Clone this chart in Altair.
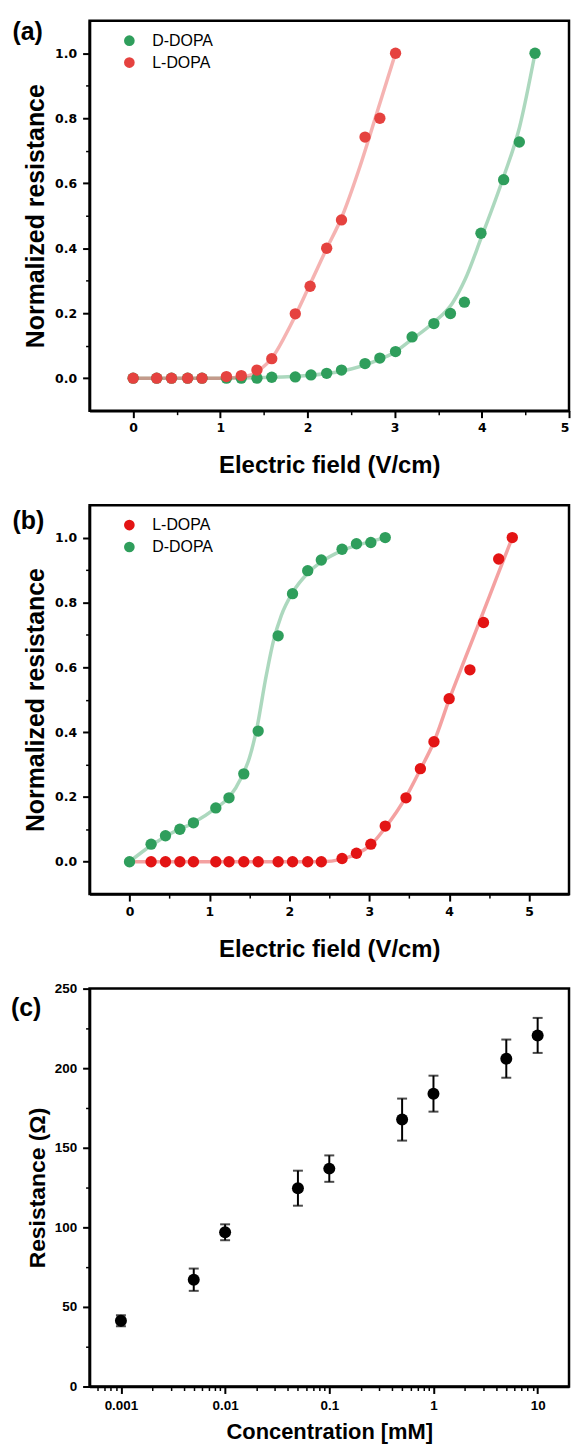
import altair as alt
import pandas as pd

# ---------------- data ----------------
# Panel (a)
a_d_x = [0, 0.27, 0.44, 0.625, 0.79, 1.07, 1.24, 1.42, 1.59, 1.86, 2.04, 2.22, 2.39, 2.66,
         2.83, 3.01, 3.20, 3.45, 3.64, 3.80, 3.99, 4.25, 4.43, 4.61]
a_d_y = [0, 0, 0, 0, 0, 0, 0, 0, 0.003, 0.004, 0.010, 0.015, 0.025, 0.045,
         0.062, 0.082, 0.127, 0.168, 0.199, 0.234, 0.446, 0.611, 0.727, 1.0]
a_l_x = [0, 0.27, 0.44, 0.625, 0.79, 1.07, 1.24, 1.42, 1.59, 1.86, 2.03, 2.22, 2.39, 2.66, 2.83, 3.01]
a_l_y = [0, 0, 0, 0, 0, 0.005, 0.008, 0.025, 0.060, 0.198, 0.283, 0.400, 0.487, 0.742, 0.800, 1.0]
# fitted curves
a_d_fit_x = [0, 1.0, 1.5, 2.0, 2.4, 2.8, 3.0, 3.2, 3.44, 3.66, 3.81, 3.99, 4.25, 4.43, 4.61]
a_d_fit_y = [0, 0, 0.002, 0.008, 0.022, 0.055, 0.080, 0.120, 0.170, 0.230, 0.305, 0.430, 0.620, 0.770, 1.0]
a_l_fit_x = [0, 1.0, 1.3, 1.45, 1.6, 1.8, 2.0, 2.2, 2.4, 2.6, 2.8, 3.01]
a_l_fit_y = [0, 0, 0.006, 0.025, 0.065, 0.160, 0.272, 0.388, 0.500, 0.650, 0.820, 1.0]

# Panel (b)
b_d_x = [0, 0.27, 0.45, 0.63, 0.80, 1.08, 1.245, 1.43, 1.61, 1.86, 2.04, 2.23, 2.40, 2.66, 2.84, 3.02, 3.20]
b_d_y = [0, 0.054, 0.080, 0.100, 0.120, 0.166, 0.197, 0.271, 0.403, 0.697, 0.827, 0.898, 0.931,
         0.964, 0.981, 0.985, 1.0]
b_l_x = [0.27, 0.45, 0.63, 0.80, 1.08, 1.245, 1.43, 1.61, 1.86, 2.04, 2.23, 2.40, 2.66, 2.84,
         3.02, 3.20, 3.46, 3.64, 3.81, 4.00, 4.26, 4.43, 4.62, 4.79]
b_l_y = [0, 0, 0, 0, 0, 0, 0, 0, 0, 0, 0, 0, 0.010, 0.026, 0.054, 0.110, 0.197, 0.287, 0.370,
         0.503, 0.592, 0.738, 0.934, 1.0]
b_d_fit_x = [0, 0.27, 0.5, 0.8, 1.08, 1.25, 1.4, 1.5, 1.6, 1.7, 1.8, 1.9, 2.04, 2.23, 2.4, 2.66, 2.9, 3.2]
b_d_fit_y = [0, 0.050, 0.085, 0.120, 0.165, 0.200, 0.260, 0.320, 0.420, 0.560, 0.680, 0.760, 0.830,
             0.890, 0.925, 0.960, 0.980, 1.0]
b_l_fit_x = [0, 2.4, 2.66, 2.84, 3.02, 3.2, 3.46, 3.64, 3.81, 4.0, 4.2, 4.4, 4.6, 4.79]
b_l_fit_y = [0, 0, 0.008, 0.024, 0.052, 0.105, 0.200, 0.285, 0.370, 0.500, 0.627, 0.753, 0.880, 1.0]

# Panel (c)
conc = [0.001, 0.005, 0.01, 0.05, 0.1, 0.5, 1, 5, 10]
resistance = [41.3, 67.1, 96.9, 124.6, 136.9, 167.7, 184.0, 206.0, 220.6]
res_err = [3.5, 7.0, 5.0, 11.0, 8.3, 13.2, 11.3, 12.0, 11.0]

# axis tick values / labels
ab_y_major = [0.0, 0.2, 0.4, 0.6, 0.8, 1.0]
ab_y_minor = [0.1, 0.3, 0.5, 0.7, 0.9]
a_x_major = [0, 1, 2, 3, 4, 5]
a_x_minor = [0.5, 1.5, 2.5, 3.5, 4.5]
b_x_major = [0, 1, 2, 3, 4, 5]
b_x_minor = [0.5, 1.5, 2.5, 3.5, 4.5]
c_y_major = [0, 50, 100, 150, 200, 250]
c_y_minor = [25, 75, 125, 175, 225]
c_x_major = [0.001, 0.01, 0.1, 1, 10]
c_x_minor = [k * 10.0 ** e for e in range(-4, 2) for k in range(2, 10)
             if 0.0005 < k * 10.0 ** e < 20]
panel_tags = ["(a)", "(b)", "(c)"]

# ---------------- styling ----------------
TFONT = "Liberation Sans"
NFONT_AB = "DejaVu Sans"
GREEN = "#2f9e5c"
RED_A = "#e5423f"
RED_B = "#e31414"
W = 482


def major_axis(values, fmt, title, title_size, label_font, label_size, orient, pad, tpad,
               flush=False):
    return alt.Axis(orient=orient, values=values, format=fmt, title=title, grid=False,
                    domainColor="black", domainWidth=2.5, tickColor="black", tickWidth=2,
                    tickSize=7, labelFont=label_font, labelFontSize=label_size,
                    labelFontWeight="bold", labelColor="black", labelPadding=pad,
                    titleFont=TFONT, titleFontSize=title_size, titleFontWeight="bold",
                    titleColor="black", titlePadding=tpad, labelOverlap=False,
                    labelFlush=flush)


def minor_axis(values, orient):
    return alt.Axis(orient=orient, values=values, labels=False, domain=False, grid=False,
                    title=None, tickColor="black", tickWidth=1.5, tickSize=4)


def tag_layer(text, dx, dy):
    return alt.Chart(pd.DataFrame({"tag": [text]})).mark_text(
        align="left", baseline="alphabetic", font=TFONT, fontSize=25, fontWeight="bold",
        color="black").encode(text="tag:N", x=alt.value(dx), y=alt.value(dy))


def make_ab(tag, tag_y, pts, fits, order, colors, xdomain, xmajor, xminor, height, flush):
    pts_df = pd.DataFrame(
        [{"x": x, "y": y, "series": s} for s, xs, ys in pts for x, y in zip(xs, ys)])
    fit_df = pd.DataFrame(
        [{"x": x, "y": y, "series": s} for s, xs, ys in fits for x, y in zip(xs, ys)])
    xs = alt.Scale(domain=xdomain, nice=False, zero=False)
    ys = alt.Scale(domain=[-0.1, 1.1], nice=False, zero=False)
    lines = alt.Chart(fit_df).mark_line(interpolate="monotone", strokeWidth=3.5,
                                        opacity=0.4).encode(
        x=alt.X("x:Q", scale=xs,
                axis=major_axis(xmajor, "d", "Electric field (V/cm)", 24, NFONT_AB, 12.5,
                                "bottom", 4, 20, flush)),
        y=alt.Y("y:Q", scale=ys,
                axis=major_axis(ab_y_major, ".1f", "Normalized resistance", 25, NFONT_AB,
                                12.5, "left", 6, 6)),
        color=alt.Color("series:N", scale=alt.Scale(domain=order, range=colors), legend=None),
        detail="series:N",
    )
    points = alt.Chart(pts_df).mark_circle(size=130, opacity=1).encode(
        x=alt.X("x:Q", scale=xs, axis=minor_axis(xminor, "bottom")),
        y=alt.Y("y:Q", scale=ys, axis=minor_axis(ab_y_minor, "left")),
        color=alt.Color("series:N", scale=alt.Scale(domain=order, range=colors),
                        legend=alt.Legend(orient="none", legendX=32, legendY=12, title=None,
                                          symbolType="circle", symbolSize=115,
                                          symbolStrokeWidth=0, symbolOpacity=1,
                                          labelFont=TFONT, labelFontSize=16,
                                          labelColor="black", labelOffset=15,
                                          rowPadding=6, padding=0)),
    )
    return alt.layer(lines, points, tag_layer(tag, -77.5, tag_y)).resolve_axis(
        x="independent", y="independent").resolve_scale(
        color="independent").properties(width=W, height=height)


panel_a = make_ab(panel_tags[0], 19,
                  [("D-DOPA", a_d_x, a_d_y), ("L-DOPA", a_l_x, a_l_y)],
                  [("D-DOPA", a_d_fit_x, a_d_fit_y), ("L-DOPA", a_l_fit_x, a_l_fit_y)],
                  ["D-DOPA", "L-DOPA"], [GREEN, RED_A], [-0.5, 5], a_x_major, a_x_minor,
                  392, True)

panel_b = make_ab(panel_tags[1], 24,
                  [("L-DOPA", b_l_x, b_l_y), ("D-DOPA", b_d_x, b_d_y)],
                  [("L-DOPA", b_l_fit_x, b_l_fit_y), ("D-DOPA", b_d_fit_x, b_d_fit_y)],
                  ["L-DOPA", "D-DOPA"], [RED_B, GREEN], [-0.5, 5.5], b_x_major, b_x_minor,
                  391, False)

# panel c
c_df = pd.DataFrame({"conc": conc, "res": resistance, "err": res_err})
c_df["lo"] = c_df["res"] - c_df["err"]
c_df["hi"] = c_df["res"] + c_df["err"]
cap_df = pd.DataFrame({"conc": conc + conc,
                       "v": list(c_df["lo"]) + list(c_df["hi"])})

cx = alt.Scale(type="log", domain=[0.0005, 20], nice=False)
cy = alt.Scale(domain=[0, 250], nice=False, zero=False)

c_rules = alt.Chart(c_df).mark_rule(color="black", strokeWidth=2).encode(
    x=alt.X("conc:Q", scale=cx,
            axis=major_axis(c_x_major, "~g", "Concentration [mM]", 22, TFONT, 13.5,
                            "bottom", 5, 10)),
    y=alt.Y("lo:Q", scale=cy,
            axis=major_axis(c_y_major, "d", "Resistance (Ω)", 23, TFONT, 13.5,
                            "left", 6, 5)),
    y2="hi:Q",
)
c_caps = alt.Chart(cap_df).mark_tick(color="black", thickness=2, size=10,
                                     orient="horizontal").encode(
    x=alt.X("conc:Q", scale=cx, axis=None),
    y=alt.Y("v:Q", scale=cy, axis=None),
)
c_points = alt.Chart(c_df).mark_circle(size=145, color="black", opacity=1).encode(
    x=alt.X("conc:Q", scale=cx, axis=minor_axis(c_x_minor, "bottom")),
    y=alt.Y("res:Q", scale=cy, axis=minor_axis(c_y_minor, "left")),
)
panel_c = alt.layer(c_rules, c_caps, c_points, tag_layer(panel_tags[2], -79, 28)).resolve_axis(
    x="independent", y="independent").properties(width=W, height=400)

chart = alt.vconcat(panel_a, panel_b, panel_c, spacing=95, bounds="flush").properties(
    padding={"left": 1, "top": 6, "right": 0, "bottom": 0},
    background="white",
).configure_view(stroke="black", strokeWidth=2.5)

chart.save("out.html", embed_options={"renderer": "svg", "actions": False})
